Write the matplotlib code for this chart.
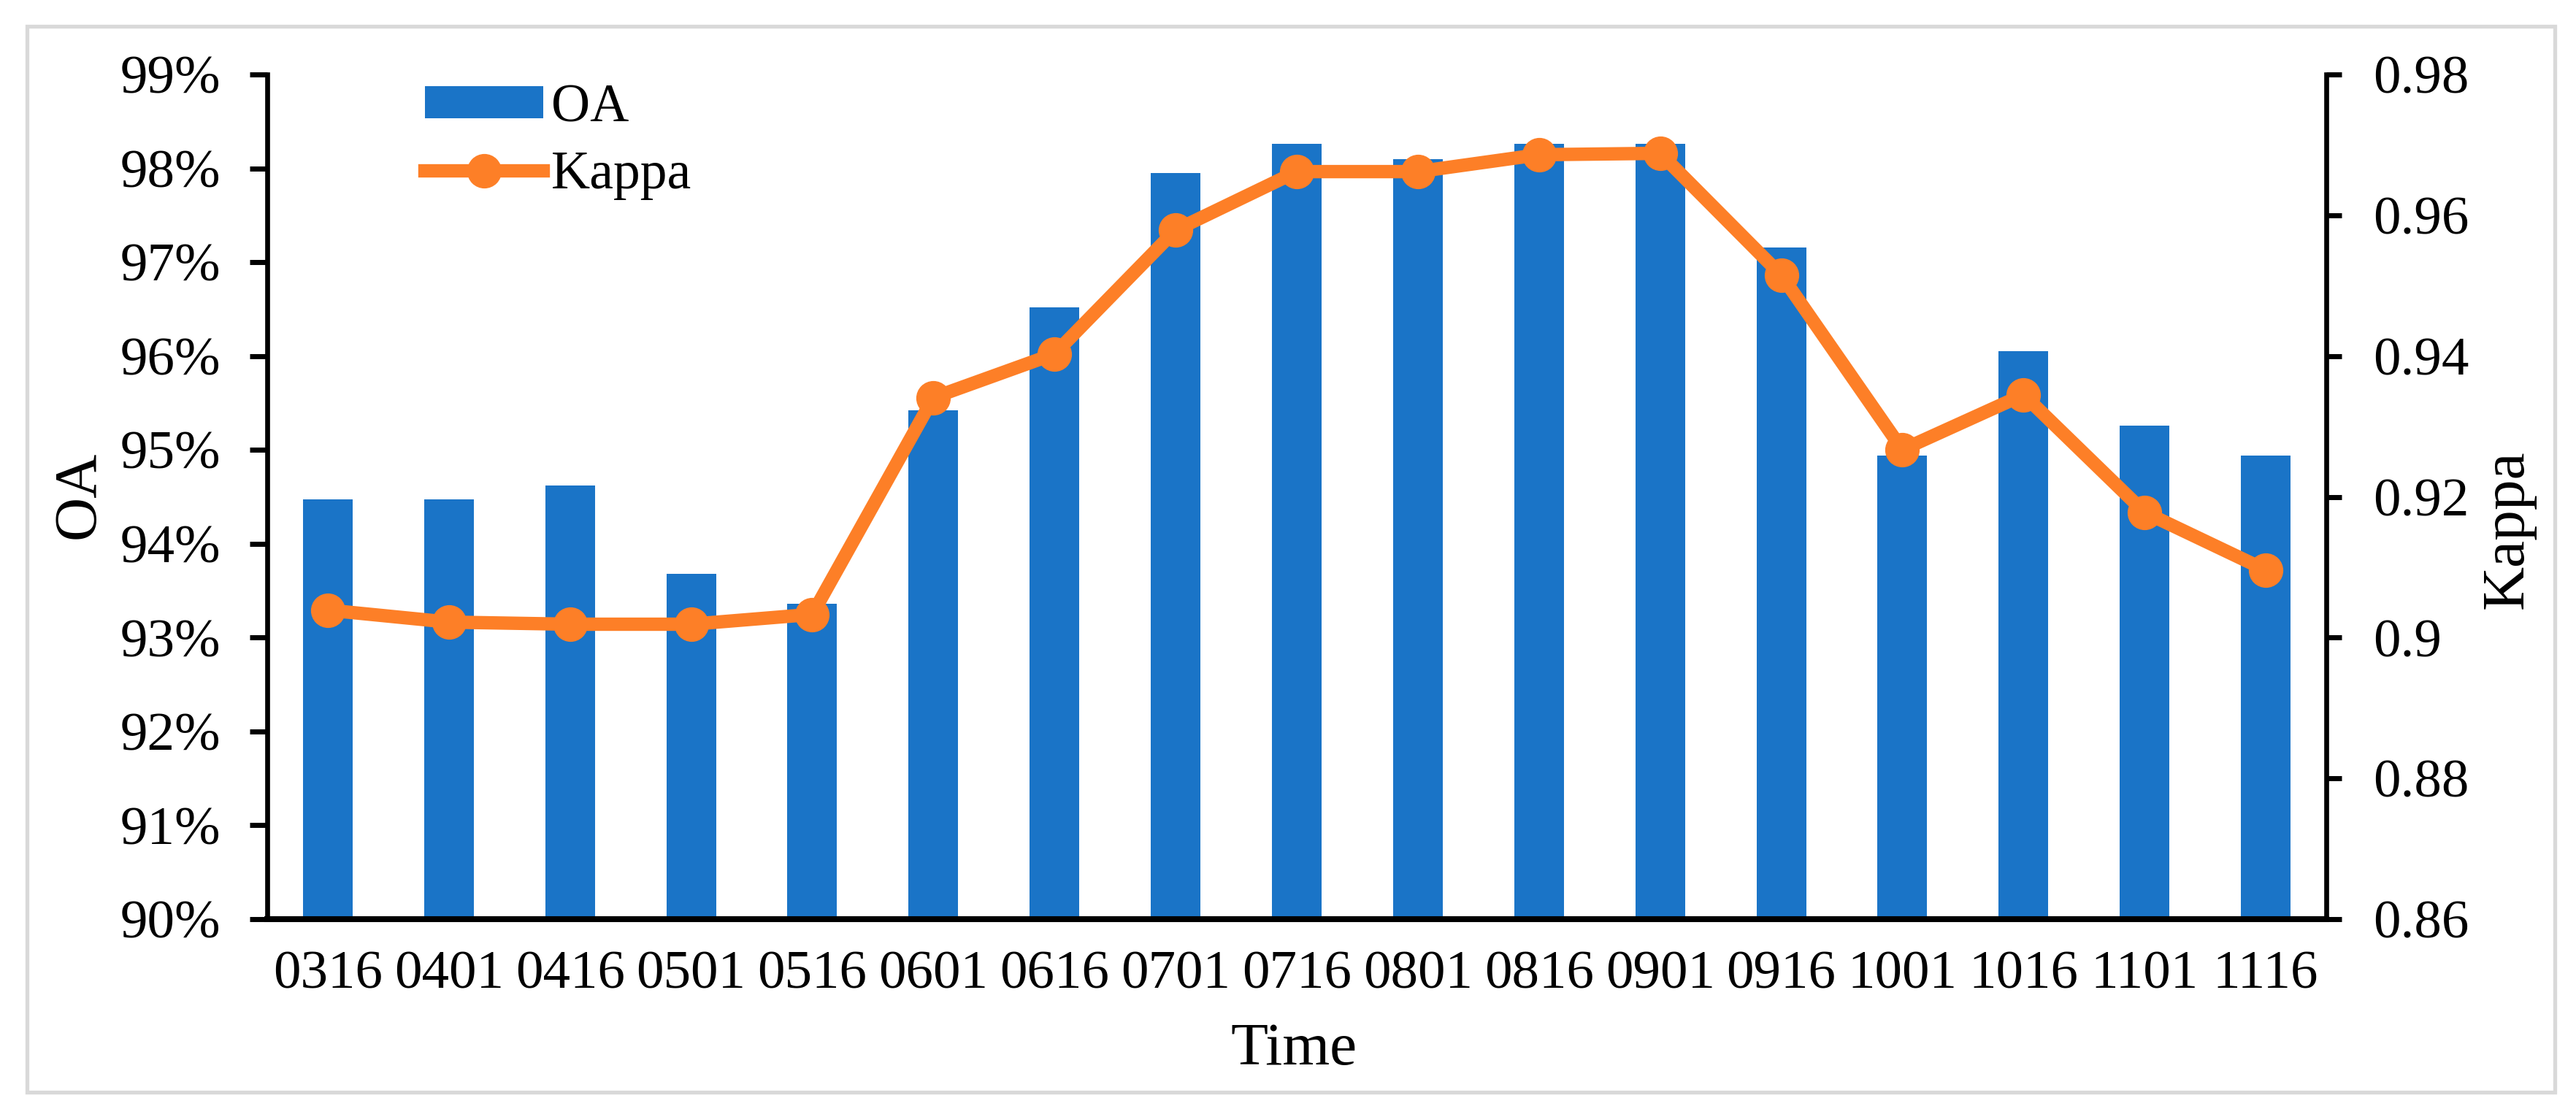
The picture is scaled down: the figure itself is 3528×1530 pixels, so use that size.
import matplotlib
matplotlib.use("Agg")
import matplotlib.pyplot as plt
from matplotlib.patches import Rectangle
import numpy as np

categories = ["0316", "0401", "0416", "0501", "0516", "0601", "0616", "0701", "0716",
              "0801", "0816", "0901", "0916", "1001", "1016", "1101", "1116"]
oa = [94.47, 94.47, 94.62, 93.68, 93.36, 95.42, 96.52, 97.95, 98.26,
      98.10, 98.26, 98.26, 97.16, 94.94, 96.05, 95.26, 94.94]
kappa = [0.9039, 0.9022, 0.9019, 0.9019, 0.9033, 0.9341, 0.9403, 0.9579, 0.9662,
         0.9662, 0.9686, 0.9688, 0.9515, 0.9267, 0.9345, 0.9178, 0.9096]
oa_ticks = [90, 91, 92, 93, 94, 95, 96, 97, 98, 99]
oa_tick_labels = ["90%", "91%", "92%", "93%", "94%", "95%", "96%", "97%", "98%", "99%"]
kappa_ticks = [0.86, 0.88, 0.90, 0.92, 0.94, 0.96, 0.98]
kappa_tick_labels = ["0.86", "0.88", "0.9", "0.92", "0.94", "0.96", "0.98"]

plt.rcParams['font.family'] = ['Liberation Serif', 'DejaVu Serif']

W, H = 3528, 1530
dpi = 100
fig = plt.figure(figsize=(W / dpi, H / dpi), dpi=dpi)

# outer gray border
fig.patches.append(Rectangle((37 / W, 1 - 1496 / H), (3499 - 37) / W, (1496 - 36) / H,
                             transform=fig.transFigure, fill=False,
                             edgecolor="#d9d9d9", linewidth=3.8))

left, right, top, bottom = 366, 3186, 102, 1259
ax = fig.add_axes([left / W, 1 - bottom / H, (right - left) / W, (bottom - top) / H])

bar_color = "#1A74C7"
line_color = "#FD7F27"
x = np.arange(len(categories))

bars = ax.bar(x, oa, width=0.41, color=bar_color, label="OA", zorder=2)
ax.set_xlim(-0.5, len(categories) - 0.5)
ax.set_ylim(90, 99)
ax.set_yticks(oa_ticks)
ax.set_yticklabels(oa_tick_labels)
ax.set_xticks(x)
ax.set_xticklabels(categories)

fs = 54
ax.tick_params(axis="y", direction="out", length=17, width=5, labelsize=fs, pad=29)
ax.tick_params(axis="x", length=0, labelsize=fs, pad=31)
for s in ["top", "right"]:
    ax.spines[s].set_visible(False)
ax.spines["left"].set_linewidth(4.8)
ax.spines["bottom"].set_linewidth(5.8)

ax2 = ax.twinx()
line, = ax2.plot(x, kappa, color=line_color, linewidth=13.2, marker="o",
                 markersize=33, label="Kappa", solid_joinstyle="round", zorder=3)
ax2.set_ylim(0.86, 0.98)
ax2.set_yticks(kappa_ticks)
ax2.set_yticklabels(kappa_tick_labels)
ax2.tick_params(axis="y", direction="out", length=15, width=5, labelsize=fs, pad=31)
for s in ["top", "left", "bottom"]:
    ax2.spines[s].set_visible(False)
ax2.spines["right"].set_linewidth(4.8)

leg = ax2.legend([bars, line], ["OA", "Kappa"], loc="upper left",
                 bbox_to_anchor=(216 / (right - left), 0.989), frameon=False,
                 fontsize=53, handlelength=2.2, handleheight=0.55, handletextpad=0.15,
                 labelspacing=0.33, borderpad=0, borderaxespad=0)

lab_fs = 60
fig.text(129 / W, 1 - 678 / H, "OA", rotation=90, rotation_mode="anchor",
         ha="center", va="baseline", fontsize=lab_fs)
fig.text(3455 / W, 1 - 725 / H, "Kappa", rotation=90, rotation_mode="anchor",
         ha="center", va="baseline", fontsize=lab_fs)
fig.text(1772 / W, 1 - 1458 / H, "Time", ha="center", va="baseline", fontsize=lab_fs)

fig.savefig("out.png", dpi=dpi)
